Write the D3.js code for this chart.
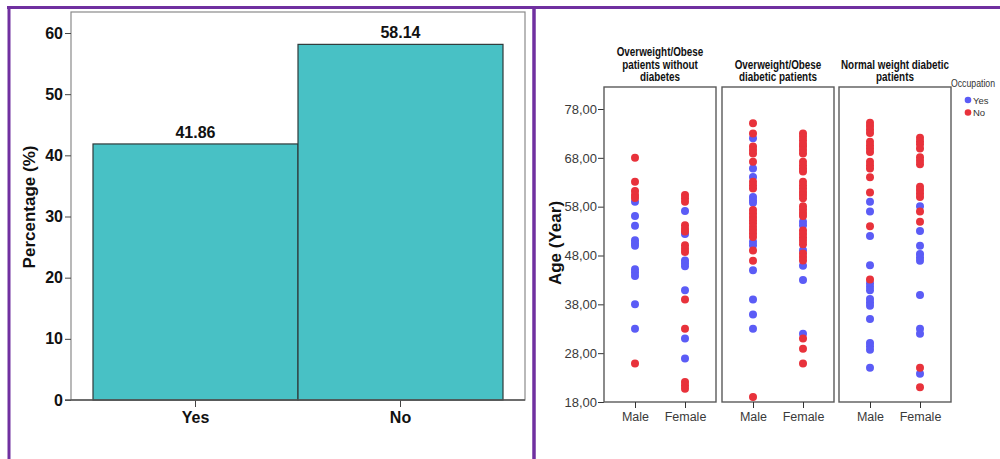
<!DOCTYPE html>
<html>
<head>
<meta charset="utf-8">
<script src="https://cdn.jsdelivr.net/npm/d3@7"></script>
<style>
  body { margin: 0; background: #fff; }
  svg { display: block; }
</style>
</head>
<body>
<svg id="chart" width="1000" height="459"></svg>
<script>
// ---- Left chart: occupation share ----
const occupationCats = ["Yes", "No"];
const occupationPct = [41.86, 58.14];
const pctTicks = [0, 10, 20, 30, 40, 50, 60];

// ---- Right chart: age by sex, occupation and patient group ----
const groupTitles = [
  ["Overweight/Obese", "patients without", "diabetes"],
  ["Overweight/Obese", "diabetic patients"],
  ["Normal weight diabetic", "patients"]
];
const sexes = ["Male", "Female"];
const ageTicks = [18, 28, 38, 48, 58, 68, 78];
const occupationLegend = ["Yes", "No"];

// Group 1: overweight/obese patients without diabetes
const g1MaleYes = [59.0, 56.1, 54.1, 51.1, 50.5, 50.0, 45.2, 44.5, 43.8, 38.0, 33.0];
const g1MaleNo = [68.0, 63.1, 61.2, 60.4, 59.8, 25.9];
const g1FemaleYes = [57.1, 52.4, 47.0, 46.4, 45.8, 40.9, 31.0, 26.9];
const g1FemaleNo = [60.4, 59.7, 59.0, 54.2, 53.5, 52.9, 50.1, 49.4, 48.7, 39.0, 33.0, 22.1, 21.4, 20.7];

// Group 2: overweight/obese diabetic patients
const g2MaleYes = [72.0, 65.8, 64.1, 60.0, 59.3, 58.8, 50.8, 50.1, 45.0, 39.0, 35.9, 33.0];
const g2MaleNo = [75.1, 73.0, 70.3, 69.6, 68.9, 67.2, 63.1, 62.4, 61.7, 57.3, 56.6, 55.9, 55.2,
                  54.6, 53.9, 53.2, 52.5, 51.8, 49.0, 46.9, 19.0];
const g2FemaleYes = [54.9, 54.2, 49.1, 45.9, 43.0, 32.0];
const g2FemaleNo = [73.0, 72.3, 71.6, 70.9, 70.3, 69.6, 68.9, 67.2, 66.5, 65.8, 65.2, 63.1, 62.4,
                    61.7, 61.0, 60.4, 59.7, 58.1, 57.4, 56.7, 56.1, 53.1, 52.4, 51.7, 51.0, 50.3,
                    48.4, 47.7, 47.0, 31.0, 28.9, 25.9];

// Group 3: normal weight diabetic patients
const g3MaleYes = [59.0, 57.0, 52.0, 46.0, 42.3, 41.6, 40.9, 39.1, 38.4, 37.7, 35.0, 30.1, 29.4, 28.7, 25.0];
const g3MaleNo = [75.2, 74.5, 73.8, 73.1, 71.3, 70.6, 69.9, 69.2, 67.2, 66.5, 65.8, 64.0, 60.9, 54.0, 43.1];
const g3FemaleYes = [58.1, 53.0, 50.0, 48.3, 47.6, 46.9, 39.9, 33.0, 32.0, 23.8];
const g3FemaleNo = [72.1, 71.4, 70.8, 69.9, 68.1, 67.4, 66.7, 62.1, 61.4, 60.7, 60.0, 57.0, 54.9, 25.0, 21.0];

const groupAges = [
  { Male: { Yes: g1MaleYes, No: g1MaleNo }, Female: { Yes: g1FemaleYes, No: g1FemaleNo } },
  { Male: { Yes: g2MaleYes, No: g2MaleNo }, Female: { Yes: g2FemaleYes, No: g2FemaleNo } },
  { Male: { Yes: g3MaleYes, No: g3MaleNo }, Female: { Yes: g3FemaleYes, No: g3FemaleNo } }
];

const svg = d3.select("#chart");
const baseFont = "'Liberation Sans', Arial, sans-serif";

// ================= Left: bar chart =================
const left = svg.append("g");
const frame = { x0: 71, x1: 525, y0: 12, y1: 400 };

const xBar = d3.scaleBand().domain(occupationCats).range([93, 503]).padding(0);
const yPct = d3.scaleLinear().domain([0, 60]).range([400, 33]);

left.append("rect")
  .attr("x", frame.x0).attr("y", frame.y0)
  .attr("width", frame.x1 - frame.x0).attr("height", frame.y1 - frame.y0)
  .attr("fill", "none").attr("stroke", "#8a8a8a").attr("stroke-width", 1.2);

left.selectAll("rect.bar")
  .data(occupationCats)
  .join("rect")
  .attr("class", "bar")
  .attr("x", d => xBar(d))
  .attr("y", (d, i) => yPct(occupationPct[i]))
  .attr("width", xBar.bandwidth())
  .attr("height", (d, i) => yPct(0) - yPct(occupationPct[i]))
  .attr("fill", "#48c1c5")
  .attr("stroke", "#2f3a3a")
  .attr("stroke-width", 1.2);

left.selectAll("text.val")
  .data(occupationCats)
  .join("text")
  .attr("class", "val")
  .attr("x", d => xBar(d) + xBar.bandwidth() / 2)
  .attr("y", (d, i) => yPct(occupationPct[i]) - 6)
  .attr("text-anchor", "middle")
  .attr("font-family", baseFont).attr("font-weight", "bold").attr("font-size", 16)
  .attr("fill", "#111")
  .text((d, i) => occupationPct[i].toFixed(2));

const yAxisL = left.append("g")
  .attr("transform", `translate(${frame.x0},0)`)
  .call(d3.axisLeft(yPct).tickValues(pctTicks).tickSize(6).tickPadding(2).tickFormat(d3.format("d")));
yAxisL.select(".domain").remove();
yAxisL.selectAll(".tick line").attr("stroke", "#444");
yAxisL.selectAll(".tick text")
  .attr("font-family", baseFont).attr("font-weight", "bold").attr("font-size", 16).attr("fill", "#111");

const xAxisL = left.append("g")
  .attr("transform", `translate(0,${frame.y1})`)
  .call(d3.axisBottom(xBar).tickSize(7).tickPadding(5));
xAxisL.select(".domain").remove();
xAxisL.selectAll(".tick line").attr("stroke", "#444");
xAxisL.selectAll(".tick text")
  .attr("font-family", baseFont).attr("font-weight", "bold").attr("font-size", 16).attr("fill", "#111");

left.append("line")
  .attr("x1", frame.x0 - 6).attr("x2", frame.x1)
  .attr("y1", frame.y1).attr("y2", frame.y1)
  .attr("stroke", "#555").attr("stroke-width", 1.4);

left.append("text")
  .attr("transform", "translate(35,207) rotate(-90)")
  .attr("text-anchor", "middle")
  .attr("font-family", baseFont).attr("font-weight", "bold").attr("font-size", 17)
  .attr("fill", "#111")
  .text("Percentage (%)");

// ================= Right: dot plot panels =================
const right = svg.append("g");
const panelTop = 87, panelBottom = 402, panelWidth = 112;
const panelLefts = [604, 722, 839];

const yAge = d3.scaleLinear().domain([18, 78]).range([402, 109]);
const xSex = d3.scalePoint().domain(sexes).range([0, panelWidth]).padding(0.62);
const occColor = d3.scaleOrdinal().domain(occupationLegend).range(["#5b5cf6", "#e8323b"]);

const yAxisR = right.append("g")
  .attr("transform", `translate(${panelLefts[0]},0)`)
  .call(d3.axisLeft(yAge).tickValues(ageTicks).tickSize(6).tickPadding(1)
    .tickFormat(d => d3.format(".2f")(d).replace(".", ",")));
yAxisR.select(".domain").remove();
yAxisR.selectAll(".tick line").attr("stroke", "#333");
yAxisR.selectAll(".tick text")
  .attr("font-family", baseFont).attr("font-size", 13).attr("fill", "#3a3a3a");

right.append("text")
  .attr("transform", "translate(561,243) rotate(-90)")
  .attr("text-anchor", "middle")
  .attr("font-family", baseFont).attr("font-weight", "bold").attr("font-size", 17)
  .attr("fill", "#111")
  .text("Age (Year)");

groupAges.forEach((grp, gi) => {
  const px = panelLefts[gi];
  const p = right.append("g").attr("transform", `translate(${px},0)`);

  p.append("rect")
    .attr("x", 0).attr("y", panelTop)
    .attr("width", panelWidth).attr("height", panelBottom - panelTop)
    .attr("fill", "none").attr("stroke", "#5a5a5a").attr("stroke-width", 1.4);

  // panel title: narrow bold lines, bottom-aligned above the box
  const lines = groupTitles[gi];
  p.append("g")
    .attr("transform", `translate(${panelWidth / 2},0) scale(0.76,1)`)
    .append("text")
    .attr("text-anchor", "middle")
    .attr("font-family", baseFont).attr("font-weight", "bold").attr("font-size", 13)
    .attr("fill", "#111")
    .selectAll("tspan")
    .data(lines)
    .join("tspan")
    .attr("x", 0)
    .attr("y", (d, i) => 81.5 - (lines.length - 1 - i) * 12.6)
    .text(d => d);

  const xAx = p.append("g")
    .attr("transform", `translate(0,${panelBottom})`)
    .call(d3.axisBottom(xSex).tickSize(6).tickPadding(4));
  xAx.select(".domain").remove();
  xAx.selectAll(".tick line").attr("stroke", "#333");
  xAx.selectAll(".tick text")
    .attr("font-family", baseFont).attr("font-size", 12.5).attr("fill", "#3a3a3a");

  // points: "Yes" drawn first, "No" on top
  const pts = [];
  occupationLegend.forEach(occ => {
    sexes.forEach(sex => {
      grp[sex][occ].forEach(age => pts.push({ sex, occ, age }));
    });
  });
  p.selectAll("circle")
    .data(pts)
    .join("circle")
    .attr("cx", d => xSex(d.sex))
    .attr("cy", d => yAge(d.age))
    .attr("r", 4)
    .attr("fill", d => occColor(d.occ));
});

// legend
const legend = right.append("g");
legend.append("text")
  .attr("x", 951).attr("y", 86.5)
  .attr("font-family", baseFont).attr("font-size", 11).attr("fill", "#333")
  .attr("textLength", 44).attr("lengthAdjust", "spacingAndGlyphs")
  .text("Occupation");
occupationLegend.forEach((k, i) => {
  legend.append("circle")
    .attr("cx", 968).attr("cy", 100 + i * 12.5).attr("r", 3.3)
    .attr("fill", occColor(k));
  legend.append("text")
    .attr("x", 973).attr("y", 103.5 + i * 12.5)
    .attr("font-family", baseFont).attr("font-size", 9.5).attr("fill", "#333")
    .text(k);
});

// ================= Purple borders =================
const border = svg.append("g").attr("stroke", "#7030a0").attr("stroke-width", 3).attr("fill", "none");
border.append("line").attr("x1", 7).attr("x2", 1000).attr("y1", 7.5).attr("y2", 7.5);
border.append("line").attr("x1", 9).attr("x2", 9).attr("y1", 6).attr("y2", 459);
border.append("line").attr("x1", 534).attr("x2", 534).attr("y1", 6).attr("y2", 459).attr("stroke-width", 3.5);
</script>
</body>
</html>
